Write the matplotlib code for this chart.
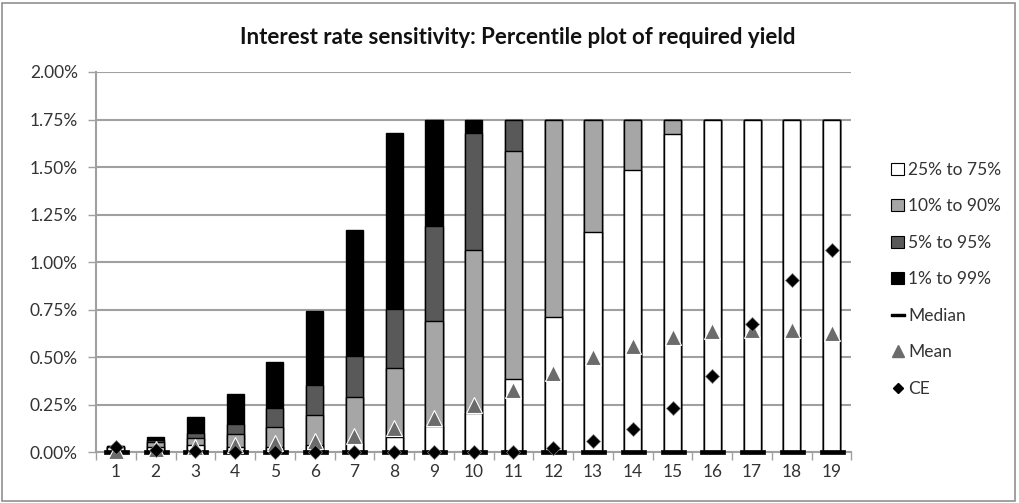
import matplotlib
matplotlib.use('Agg')
import matplotlib.pyplot as plt
from matplotlib.patches import Patch, Rectangle
from matplotlib.lines import Line2D
from matplotlib.path import Path

plt.rcParams['font.family'] = ['Lato', 'DejaVu Sans']

# data (values in %)
cats = list(range(1, 20))
p99 = [0.035, 0.08, 0.188, 0.308, 0.476, 0.742, 1.170, 1.681, 1.75, 1.75,
       1.75, 1.75, 1.75, 1.75, 1.75, 1.75, 1.75, 1.75, 1.75]
p95 = [0.032, 0.065, 0.10, 0.151, 0.233, 0.355, 0.507, 0.752, 1.189, 1.677,
       1.75, 1.75, 1.75, 1.75, 1.75, 1.75, 1.75, 1.75, 1.75]
p90 = [0.03, 0.055, 0.074, 0.095, 0.132, 0.197, 0.293, 0.443, 0.690, 1.066,
       1.582, 1.75, 1.75, 1.75, 1.75, 1.75, 1.75, 1.75, 1.75]
p75 = [0.027, 0.03, 0.04, 0.03, 0.03, 0.04, 0.05, 0.083, 0.137, 0.208,
       0.387, 0.714, 1.157, 1.485, 1.674, 1.745, 1.75, 1.75, 1.75]
p_low = [0.0] * 19
median = [0.0] * 19
mean = [0.01, 0.02, 0.03, 0.04, 0.05, 0.06, 0.086, 0.13, 0.18, 0.25,
        0.331, 0.419, 0.503, 0.562, 0.608, 0.637, 0.645, 0.646, 0.630]
ce = [0.03, 0.015, 0.01, 0.005, 0.005, 0.005, 0.005, 0.005, 0.005, 0.005,
      0.005, 0.025, 0.06, 0.122, 0.235, 0.404, 0.676, 0.908, 1.066]

bands = [
    (p99, '#000000', '1% to 99%'),
    (p95, '#595959', '5% to 95%'),
    (p90, '#a6a6a6', '10% to 90%'),
    (p75, '#ffffff', '25% to 75%'),
]

fig = plt.figure(figsize=(10.19, 5.03), dpi=100)
ax = fig.add_axes([0.0942, 0.1004, 0.7414, 0.7566])

grid_c = '#a0a0a0'
txt_c = '#333333'
bw = 0.43
for hi, col, lab in bands:
    h = [a - b for a, b in zip(hi, p_low)]
    ax.bar(cats, h, bottom=p_low, width=bw, color=col, edgecolor='black',
           linewidth=1.0, zorder=2)

# wide flat dash like the excel median marker
dash = Path([(-1, -0.17), (1, -0.17), (1, 0.17), (-1, 0.17), (-1, -0.17)],
            [Path.MOVETO, Path.LINETO, Path.LINETO, Path.LINETO, Path.CLOSEPOLY])
ax.plot(cats, median, ls='none', marker=dash, ms=18, color='black',
        mec='black', mew=0.5, zorder=3, clip_on=False)
ax.plot(cats, mean, ls='none', marker='^', ms=11, color='#6b6b6b',
        mec='white', mew=0.8, zorder=4, clip_on=False)
ax.plot(cats, ce, ls='none', marker='D', ms=7.5, color='black',
        mec='#808080', mew=0.5, zorder=5, clip_on=False)

ax.set_xlim(0.5, 19.5)
ax.set_ylim(0, 2.0)
ax.set_yticks([i * 0.25 for i in range(9)])
ax.set_yticklabels([f'{i * 0.25:.2f}%' for i in range(9)])
ax.set_xticks(cats)
ax.set_xticks([i + 0.5 for i in range(0, 20)], minor=True)
ax.tick_params(axis='x', which='major', length=0, pad=8, labelsize=12.5,
               labelcolor=txt_c)
ax.tick_params(axis='x', which='minor', length=6, width=1, color=grid_c)
ax.tick_params(axis='y', length=6, width=1, color=grid_c, pad=7,
               labelsize=12.5, labelcolor=txt_c)
ax.grid(axis='y', color=grid_c, linewidth=1.5, zorder=0)
ax.set_axisbelow(True)
for s in ['top', 'right']:
    ax.spines[s].set_visible(False)
for s in ['left', 'bottom']:
    ax.spines[s].set_color(grid_c)
    ax.spines[s].set_linewidth(1.5)

fig.text(0.508, 0.925, 'Interest rate sensitivity: Percentile plot of required yield',
         ha='center', va='center', fontsize=16, fontweight='bold', color='#111111')

handles = [
    Patch(facecolor='#ffffff', edgecolor='black', linewidth=0.8),
    Patch(facecolor='#a6a6a6', edgecolor='black', linewidth=0.8),
    Patch(facecolor='#595959', edgecolor='black', linewidth=0.8),
    Patch(facecolor='#000000', edgecolor='black', linewidth=0.8),
    Line2D([], [], ls='none', marker=dash, ms=10, color='black'),
    Line2D([], [], ls='none', marker='^', ms=8, color='#6b6b6b'),
    Line2D([], [], ls='none', marker='D', ms=5.5, color='black'),
]
labels = ['25% to 75%', '10% to 90%', '5% to 95%', '1% to 99%', 'Median', 'Mean', 'CE']
fig.legend(handles, labels, loc='upper left', bbox_to_anchor=(0.868, 0.692),
           frameon=False, fontsize=12.5, handlelength=0.7, handleheight=0.7,
           handletextpad=0.25, labelspacing=1.18, borderaxespad=0,
           labelcolor=txt_c)

fig.add_artist(Rectangle((0.002, 0.004), 0.994, 0.99, transform=fig.transFigure,
                         fill=False, edgecolor='#909090', linewidth=1.2))

fig.savefig('out.png', dpi=100)
